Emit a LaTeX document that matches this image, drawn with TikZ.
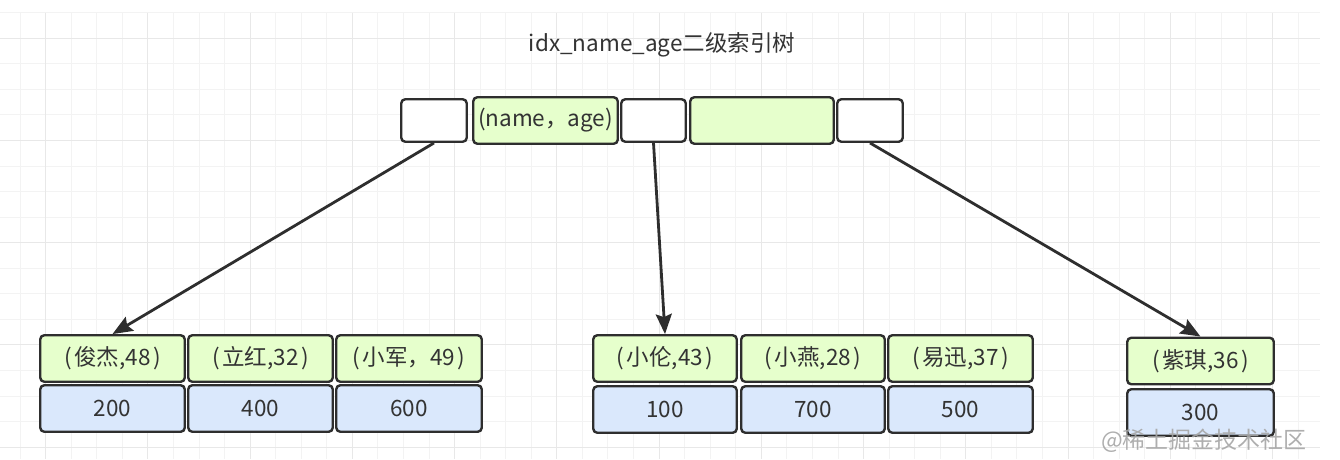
\documentclass[tikz,border=0pt]{standalone}
\usepackage{fontspec}
\setmainfont{Noto Sans CJK SC}
\usetikzlibrary{arrows.meta}
\definecolor{edge}{HTML}{2E2E2E}
\definecolor{txt}{HTML}{333333}
\definecolor{gfill}{HTML}{E6FFCC}
\definecolor{bfill}{HTML}{DAE8FC}
\definecolor{gridminor}{HTML}{F3F3F3}
\definecolor{gridmajor}{HTML}{E8E8E8}
\begin{document}
\begin{tikzpicture}[x=1pt,y=-1pt,
  cell/.style={draw=edge, line width=2.4pt, rounded corners=4pt, inner sep=0pt, text=txt,
    font=\fontsize{22.5}{26}\selectfont, minimum height=46.5pt},
  whitecell/.style={cell, fill=white, minimum height=42.5pt},
  greencell/.style={cell, fill=gfill},
  bluecell/.style={cell, fill=bfill},
  link/.style={draw=edge, line width=2.8pt, -{Stealth[length=20pt,width=16pt,inset=3pt]}},
  gridline/.style={draw=gridminor, line width=1pt},
  gridmaj/.style={draw=gridmajor, line width=1pt}]
\fill[white] (0,0) rectangle (1340,459);
\useasboundingbox (0,0) rectangle (1340,459);
% grid
\foreach \i in {0,...,50} {\draw[gridline] ({20.1+\i*25.56},12.7) -- ({20.1+\i*25.56},459);}
\foreach \j in {0,...,17} {\draw[gridline] (0,{12.7+\j*25.56}) -- (1320,{12.7+\j*25.56});}
\foreach \i in {1,5,...,49} {\draw[gridmaj] ({20.1+\i*25.56},12.7) -- ({20.1+\i*25.56},459);}
\foreach \j in {1,5,...,17} {\draw[gridmaj] (0,{12.7+\j*25.56}) -- (1320,{12.7+\j*25.56});}

% title
\node[text=txt, font=\fontsize{22.5}{26}\selectfont] (title) at (662,45) {idx\_name\_age二级索引树};

% top node
\node[whitecell, minimum width=65.5pt] (t1) at (434,120.5) {};
\node[greencell, minimum width=144.5pt] (t2) at (545.5,120.5) {(name，age)};
\node[whitecell, minimum width=64.5pt] (t3) at (653.5,120.5) {};
\node[greencell, minimum width=143.5pt] (t4) at (762,120.5) {};
\node[whitecell, minimum width=65.5pt] (t5) at (870,120.5) {};

% left leaf
\node[greencell, minimum width=144.5pt] (a1) at (112.5,358.5) {(\hspace{0.12em}俊杰,48\hspace{0.12em})};
\node[greencell, minimum width=144.5pt] (a2) at (260.5,358.5) {(\hspace{0.12em}立红,32\hspace{0.12em})};
\node[greencell, minimum width=145.5pt] (a3) at (409,358.5) {(\hspace{0.12em}小军，49\hspace{0.12em})};
\node[bluecell, minimum width=144.5pt] (a4) at (112.5,408.5) {200};
\node[bluecell, minimum width=144.5pt] (a5) at (260.5,408.5) {400};
\node[bluecell, minimum width=145.5pt] (a6) at (409,408.5) {600};

% middle leaf
\node[greencell, minimum width=143.5pt] (b1) at (665,358.5) {(\hspace{0.12em}小伦,43\hspace{0.12em})};
\node[greencell, minimum width=143.5pt] (b2) at (813,358.5) {(\hspace{0.12em}小燕,28\hspace{0.12em})};
\node[greencell, minimum width=144.5pt] (b3) at (960.5,358.5) {(\hspace{0.12em}易迅,37\hspace{0.12em})};
\node[bluecell, minimum width=143.5pt] (b4) at (665,409.5) {100};
\node[bluecell, minimum width=143.5pt] (b5) at (813,409.5) {700};
\node[bluecell, minimum width=144.5pt] (b6) at (960.5,409.5) {500};

% right leaf
\node[greencell, minimum width=146.5pt] (c1) at (1200.5,361) {(\hspace{0.12em}紫琪,36\hspace{0.12em})};
\node[bluecell, minimum width=146.5pt] (c2) at (1200.5,412.5) {300};

% connectors
\draw[link] (t1.south) -- (a1.north);
\draw[link] (t3.south) -- (b1.north);
\draw[link] (t5.south) -- (c1.north);

% watermark
\node[text=gray!70, opacity=0.9, font=\fontsize{23}{27}\selectfont] (wm) at (1204,441) {@稀土掘金技术社区};
\end{tikzpicture}
\end{document}
